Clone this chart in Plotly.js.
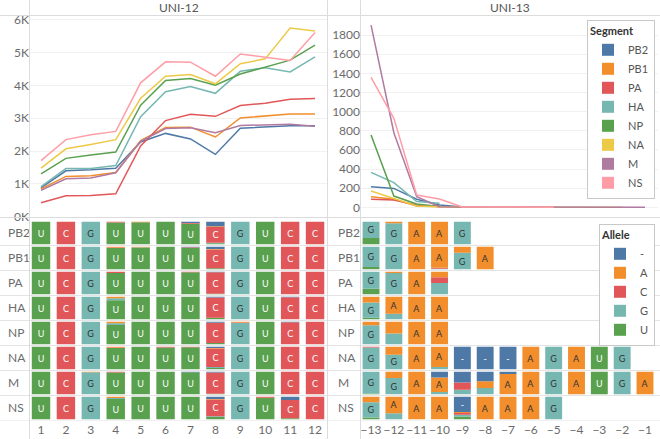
<!DOCTYPE html>
<html><head><meta charset="utf-8">
<script src="https://cdn.plot.ly/plotly-3.0.1.min.js"></script>
<style>html,body{margin:0;padding:0;background:#fff}#chart{width:660px;height:439px}</style>
</head><body><div id="chart"></div>
<script>
// ---------- categories ----------
const segments = ['PB2','PB1','PA','HA','NP','NA','M','NS'];
const segmentColors = ['#4e79a7','#f28e2b','#e15759','#76b7b2','#59a14f','#edc948','#b07aa1','#ff9da7'];
const alleles = ['-','A','C','G','U'];
const alleleColors = ['#4e79a7','#f28e2b','#e15759','#76b7b2','#59a14f'];
const alleleTextColors = ['#ffffff','#333333','#ffffff','#333333','#ffffff'];
const stackOrder = ['U','G','C','A','-'];

// ---------- UNI-12 line values ----------
const uni12Positions = [1,2,3,4,5,6,7,8,9,10,11,12];
const uni12PB2 = [880,1400,1430,1480,2280,2540,2370,1900,2700,2740,2770,2770];
const uni12PB1 = [850,1230,1250,1350,2320,2720,2730,2430,3010,3070,3130,3130];
const uni12PA  = [430,640,650,700,2160,2930,3120,3060,3390,3460,3580,3600];
const uni12HA  = [920,1470,1470,1560,3050,3810,3970,3760,4430,4540,4410,4870];
const uni12NP  = [1310,1780,1880,1970,3400,4150,4210,4010,4350,4570,4770,5230];
const uni12NA  = [1480,2070,2200,2350,3610,4280,4330,4050,4660,4810,5750,5660];
const uni12M   = [810,1160,1180,1340,2300,2690,2710,2560,2780,2790,2820,2760];
const uni12NS  = [1710,2350,2500,2600,4080,4720,4710,4280,4960,4860,4760,5610];

// ---------- UNI-13 line values ----------
const uni13Positions = [-13,-12,-11,-10,-9,-8,-7,-6,-5,-4,-3,-2,-1];
const uni13PB2 = [216,198,84,25,3];
const uni13PB1 = [111,84,14,7,2,1];
const uni13PA  = [84,77,25,14];
const uni13HA  = [365,258,60,42];
const uni13NP  = [755,118,35,7];
const uni13NA  = [170,94,14,7,3,3,3,2,2,1,1,1];
const uni13M   = [1904,780,111,7,4,4,3,3,2,2,1,1,1];
const uni13NS  = [1357,930,128,87,4,3,3,2,2];

// ---------- UNI-12 allele fractions (rows = segments, cols = positions) ----------
const uni12Dash = [
 [0,0,0,0,0,0,0.05,0.20,0,0,0,0],
 [0,0,0,0,0,0,0.02,0.10,0,0,0,0],
 [0,0,0,0,0,0,0,0.02,0,0,0,0],
 [0,0,0,0,0,0,0,0.03,0,0,0.02,0],
 [0,0,0,0,0,0,0,0.04,0,0,0.02,0],
 [0,0,0,0,0,0,0,0.06,0,0,0,0],
 [0,0,0,0,0,0,0.02,0.03,0,0,0,0],
 [0,0,0,0,0,0,0,0.10,0,0,0.14,0]];
const uni12A = [
 [0,0,0,0,0.02,0,0,0.03,0,0,0,0],
 [0,0,0,0.03,0.02,0,0,0.02,0,0,0,0],
 [0,0,0,0,0,0,0,0,0,0,0,0],
 [0,0,0,0.07,0,0,0,0,0,0,0,0],
 [0,0,0,0.07,0,0,0,0.02,0.03,0,0,0],
 [0,0,0,0.03,0,0,0,0.02,0,0,0,0],
 [0,0,0.02,0,0,0,0,0,0,0,0,0],
 [0,0,0,0.05,0,0,0,0.02,0,0,0,0]];
const uni12C = [
 [0,1,0,0.03,0,0,0.04,0.70,0,0,1,1],
 [0,1,0,0.02,0,0,0.02,0.84,0,0,1,1],
 [0,1,0,0.05,0,0,0.02,0.96,0,0,1,1],
 [0,1,0,0,0,0,0,0.90,0,0,0.98,1],
 [0,1,0,0,0,0,0,0.88,0.03,0,0.98,1],
 [0,1,0,0.03,0,0.03,0.02,0.82,0,0,1,1],
 [0,1,0,0.03,0,0,0,0.95,0,0,1,1],
 [0,1,0,0,0,0,0,0.75,0,0.04,0.81,1]];
const uni12G = [
 [0,0,1,0,0,0,0,0.02,1,0,0,0],
 [0,0,1,0,0.01,0,0,0,1,0,0,0],
 [0,0,1,0,0,0,0,0,1,0,0,0],
 [0,0,1,0.09,0,0,0,0,1,0,0,0],
 [0,0,1,0.07,0,0,0,0,0.94,0,0,0],
 [0,0,1,0,0,0,0,0.04,1,0,0,0],
 [0,0,0.98,0,0,0,0,0,1,0,0,0],
 [0,0,1,0.05,0,0,0,0.03,1,0,0,0]];
const uni12U = [
 [1,0,0,0.97,0.98,1,0.91,0.05,0,1,0,0],
 [1,0,0,0.95,0.97,1,0.96,0.04,0,1,0,0],
 [1,0,0,0.95,1,1,0.98,0.02,0,1,0,0],
 [1,0,0,0.84,1,1,1,0.07,0,1,0,0],
 [1,0,0,0.86,1,1,1,0.06,0,1,0,0],
 [1,0,0,0.94,1,0.97,0.98,0.06,0,1,0,0],
 [1,0,0,0.97,1,1,0.98,0.02,0,1,0,0],
 [1,0,0,0.90,1,1,1,0.10,0,0.96,0.05,0]];
const uni12ColumnLabels = ['U','C','G','U','U','U','U','C','G','U','C','C'];

// ---------- UNI-13 allele fractions ----------
const uni13Dash = [
 [0,0,0,0,0,0,0,0,0,0,0,0,0],
 [0,0,0,0,0,0,0,0,0,0,0,0,0],
 [0,0,0,0,0,0,0,0,0,0,0,0,0],
 [0,0,0,0,0,0,0,0,0,0,0,0,0],
 [0,0,0,0,0,0,0,0,0,0,0,0,0],
 [0,0,0,0,1,1,1,0,0,0,0,0,0],
 [0,0,0,0.25,0.48,0.42,0.10,0,0,0,0,0,0],
 [0,0,0,0,0.68,0,0,0,0,0,0,0,0]];
const uni13A = [
 [0,0.07,1,1,0,0,0,0,0,0,0,0,0],
 [0,0,1,0.93,0.27,1,0,0,0,0,0,0,0],
 [0,0.05,1,0.24,0,0,0,0,0,0,0,0,0],
 [0.25,0.75,1,1,0,0,0,0,0,0,0,0,0],
 [0.15,0.52,1,1,0,0,0,0,0,0,0,0,0],
 [0,0.35,1,0.90,0,0,0,1,0,1,0,0,0],
 [0,0.28,1,0.65,0,0.30,0.90,1,0,1,0,0,1],
 [0.24,0.73,1,1,0.04,1,1,1,0,0,0,0,0]];
const uni13C = [
 [0,0,0,0,0,0,0,0,0,0,0,0,0],
 [0,0,0,0.05,0,0,0,0,0,0,0,0,0],
 [0,0,0,0.26,0,0,0,0,0,0,0,0,0],
 [0,0.02,0,0,0,0,0,0,0,0,0,0,0],
 [0,0,0,0,0,0,0,0,0,0,0,0,0],
 [0.03,0,0,0,0,0,0,0,0,0,0,0,0],
 [0,0,0,0,0.32,0,0,0,0,0,0,0,0],
 [0,0,0,0,0.08,0,0,0,0,0,0,0,0]];
const uni13G = [
 [0.72,0.93,0,0,1,0,0,0,0,0,0,0,0],
 [0.90,1,0,0.02,0.73,0,0,0,0,0,0,0,0],
 [0.75,0.95,0,0.50,0,0,0,0,0,0,0,0,0],
 [0.68,0.23,0,0,0,0,0,0,0,0,0,0,0],
 [0.85,0.48,0,0,0,0,0,0,0,0,0,0,0],
 [0.97,0.65,0,0.10,0,0,0,0,1,0,0,1,0],
 [0.97,0.72,0,0.10,0.20,0.28,0,0,1,0,0,1,0],
 [0.68,0.27,0,0,0.08,0,0,0,1,0,0,0,0]];
const uni13U = [
 [0.28,0,0,0,0,0,0,0,0,0,0,0,0],
 [0.10,0,0,0,0,0,0,0,0,0,0,0,0],
 [0.25,0,0,0,0,0,0,0,0,0,0,0,0],
 [0.07,0,0,0,0,0,0,0,0,0,0,0,0],
 [0,0,0,0,0,0,0,0,0,0,0,0,0],
 [0,0,0,0,0,0,0,0,0,0,1,0,0],
 [0.03,0,0,0,0,0,0,0,0,0,1,0,0],
 [0.08,0,0,0,0.12,0,0,0,0,0,0,0,0]];
const uni13Labels = [
 ['G','G','A','A','G','','','','','','','',''],
 ['G','G','A','A','G','A','','','','','','',''],
 ['G','G','A','','','','','','','','','',''],
 ['G','A','A','A','','','','','','','','',''],
 ['G','','A','A','','','','','','','','',''],
 ['G','G','A','A','-','-','-','A','G','A','U','G',''],
 ['G','G','A','A','','','A','A','G','A','U','G','A'],
 ['G','A','A','A','-','A','A','A','G','','','','']];

// ---------- build traces ----------
const traces = [];
const uni12Series = [uni12PB2,uni12PB1,uni12PA,uni12HA,uni12NP,uni12NA,uni12M,uni12NS];
const uni13Series = [uni13PB2,uni13PB1,uni13PA,uni13HA,uni13NP,uni13NA,uni13M,uni13NS];
segments.forEach((s,i)=>{
  traces.push({type:'scatter',mode:'lines',x:uni12Positions.slice(0,uni12Series[i].length),y:uni12Series[i],
    line:{color:segmentColors[i],width:1.5},xaxis:'x',yaxis:'y',showlegend:false,hoverinfo:'skip'});
});
segments.forEach((s,i)=>{
  traces.push({type:'scatter',mode:'lines',x:uni13Positions.slice(0,uni13Series[i].length),y:uni13Series[i],
    line:{color:segmentColors[i],width:1.5},xaxis:'x2',yaxis:'y2',showlegend:false,hoverinfo:'skip'});
});
// segment legend entries
segments.forEach((s,i)=>{
  traces.push({type:'bar',x:[null],y:[null],name:s,marker:{color:segmentColors[i]},xaxis:'x',yaxis:'y',
    legend:'legend',showlegend:true,hoverinfo:'skip',legendrank:i+1});
});

const nRows = segments.length;
const cellFill = 0.9, cellPad = 0.05;
function addPanel(mats, labelAt, xs, xa, ya, showLegend){
  const cum = mats['U'].map(r=>r.map(()=>0));
  stackOrder.forEach(a=>{
    const ai = alleles.indexOf(a);
    const m = mats[a];
    const x=[],y=[],base=[],text=[];
    for(let r=0;r<nRows;r++){
      for(let c=0;c<xs.length;c++){
        const f = m[r][c];
        if(f>0){
          x.push(xs[c]); y.push(f*cellFill);
          base.push((nRows-1-r)+cellPad+cum[r][c]*cellFill);
          text.push(labelAt(r,c)===a ? a : '');
          cum[r][c]+=f;
        }
      }
    }
    traces.push({type:'bar',x:x,y:y,base:base,width:0.74,text:text,textposition:'inside',
      insidetextanchor:'middle',textangle:0,constraintext:'none',
      textfont:{color:alleleTextColors[ai],size:9,family:'Lato, sans-serif'},
      marker:{color:alleleColors[ai],line:{width:0}},name:a,legendgroup:a,legend:'legend2',
      showlegend:showLegend,legendrank:ai+1,xaxis:xa,yaxis:ya,hoverinfo:'skip'});
  });
}
addPanel({'-':uni12Dash,'A':uni12A,'C':uni12C,'G':uni12G,'U':uni12U},(r,c)=>uni12ColumnLabels[c],uni12Positions,'x3','y3',true);
addPanel({'-':uni13Dash,'A':uni13A,'C':uni13C,'G':uni13G,'U':uni13U},(r,c)=>uni13Labels[r][c],uni13Positions,'x4','y4',false);

// ---------- layout ----------
const W=660,H=439;
const px=v=>v/W, py=v=>(H-v)/H;
const tickGray='#6b6b6b';
const topDomY=[py(217),py(16)], botDomY=[py(420.5),py(220.5)];
const leftDomX=[px(30),px(327)], rightDomX=[px(361),px(658)];
const rowCenters = segments.map((s,i)=>nRows-1-i+0.5);
const lineCol='#dcdcdc';
const shapes=[
  {type:'line',xref:'paper',yref:'paper',x0:0,x1:1,y0:py(15.5),y1:py(15.5),line:{color:lineCol,width:1}},
  {type:'line',xref:'paper',yref:'paper',x0:0,x1:1,y0:py(217.5),y1:py(217.5),line:{color:lineCol,width:1}},
  {type:'line',xref:'paper',yref:'paper',x0:px(29.5),x1:px(29.5),y0:0,y1:1,line:{color:lineCol,width:1}},
  {type:'line',xref:'paper',yref:'paper',x0:px(327.5),x1:px(327.5),y0:0,y1:1,line:{color:lineCol,width:1}},
  {type:'line',xref:'paper',yref:'paper',x0:px(360.5),x1:px(360.5),y0:0,y1:1,line:{color:lineCol,width:1}}
];
for(let k=0;k<nRows;k++){
  shapes.push({type:'line',xref:'paper',yref:'y3',x0:0,x1:1,y0:k,y1:k,line:{color:'#e4e4e4',width:1},layer:'below'});
}
const layout={
  width:W,height:H,margin:{l:0,r:0,t:0,b:0},paper_bgcolor:'#fff',plot_bgcolor:'rgba(0,0,0,0)',
  font:{family:'Lato, sans-serif',color:tickGray,size:12},
  barmode:'overlay',showlegend:true,hovermode:false,
  xaxis:{domain:leftDomX,range:[0.558,12.48],showticklabels:false,showgrid:false,zeroline:false,anchor:'y',fixedrange:true},
  yaxis:{domain:topDomY,range:[-6,6115],tickvals:[0,1000,2000,3000,4000,5000,6000],
    ticktext:['0K','1K','2K','3K','4K','5K','6K'],showgrid:true,gridcolor:'#f1f1f1',zeroline:false,anchor:'x',
    tickfont:{size:12,color:tickGray}},
  xaxis2:{domain:rightDomX,range:[-13.44,-0.43],showticklabels:false,showgrid:false,zeroline:false,anchor:'y2'},
  yaxis2:{domain:topDomY,range:[-101,1999],tickvals:[0,200,400,600,800,1000,1200,1400,1600,1800],
    showgrid:true,gridcolor:'#f1f1f1',zeroline:false,anchor:'x2',tickfont:{size:12,color:tickGray}},
  xaxis3:{domain:leftDomX,range:[0.558,12.48],tickvals:uni12Positions,showgrid:false,zeroline:false,anchor:'y3',
    tickangle:0,tickfont:{size:12,color:tickGray}},
  yaxis3:{domain:botDomY,range:[0,8],tickvals:rowCenters,ticktext:segments,anchor:'free',position:px(4),
    ticklabelposition:'inside',showgrid:false,zeroline:false,showline:false,tickfont:{size:12,color:tickGray}},
  xaxis4:{domain:rightDomX,range:[-13.44,-0.43],tickvals:uni13Positions,showgrid:false,zeroline:false,anchor:'y4',
    tickangle:0,tickfont:{size:12,color:tickGray}},
  yaxis4:{domain:botDomY,range:[0,8],tickvals:rowCenters,ticktext:segments,anchor:'free',position:px(334),
    ticklabelposition:'inside',showgrid:false,zeroline:false,showline:false,tickfont:{size:12,color:tickGray}},
  legend:{x:px(655),xanchor:'right',y:py(20),yanchor:'top',bgcolor:'#fff',bordercolor:'#c8c8c8',borderwidth:1,
    font:{size:11,color:'#555'},title:{text:'<b>Segment</b>',font:{size:11,color:'#333'}},tracegroupgap:0,itemclick:false},
  legend2:{x:px(655),xanchor:'right',y:py(224),yanchor:'top',bgcolor:'#fff',bordercolor:'#c8c8c8',borderwidth:1,
    font:{size:11,color:'#555'},title:{text:'<b>Allele</b>',font:{size:11,color:'#333'}},tracegroupgap:0,itemclick:false},
  shapes:shapes,
  annotations:[
    {text:'UNI-12',xref:'paper',yref:'paper',x:(leftDomX[0]+leftDomX[1])/2,y:py(8),showarrow:false,
      font:{size:12,color:'#555'},xanchor:'center',yanchor:'middle'},
    {text:'UNI-13',xref:'paper',yref:'paper',x:(rightDomX[0]+rightDomX[1])/2,y:py(8),showarrow:false,
      font:{size:12,color:'#555'},xanchor:'center',yanchor:'middle'}
  ]
};
Plotly.newPlot('chart',traces,layout,{displayModeBar:false,staticPlot:true});
</script></body></html>
